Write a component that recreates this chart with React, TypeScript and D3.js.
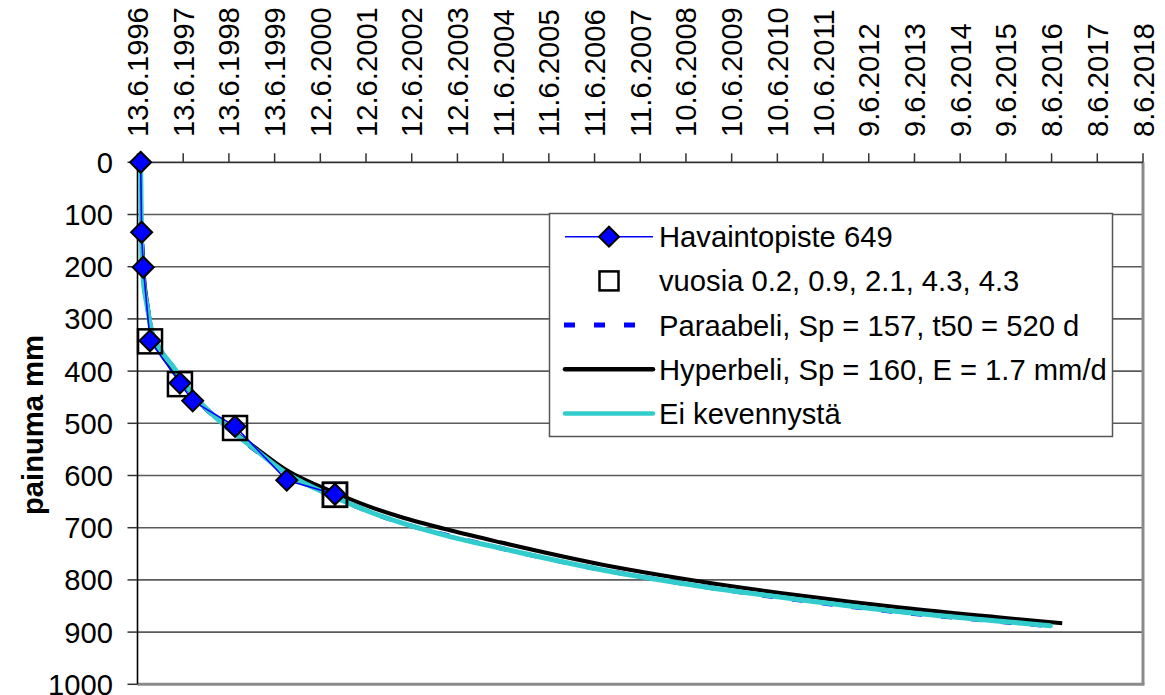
import React from "react";
import * as d3 from "d3";

// ---- data ----
const dateLabels = [
  "13.6.1996", "13.6.1997", "13.6.1998", "13.6.1999", "12.6.2000", "12.6.2001",
  "12.6.2002", "12.6.2003", "11.6.2004", "11.6.2005", "11.6.2006", "11.6.2007",
  "10.6.2008", "10.6.2009", "10.6.2010", "10.6.2011", "9.6.2012", "9.6.2013",
  "9.6.2014", "9.6.2015", "8.6.2016", "8.6.2017", "8.6.2018",
];
const tickStepDays = 365;
const yTicks = [0, 100, 200, 300, 400, 500, 600, 700, 800, 900, 1000];

// observation point 649 (days from 13.6.1996, settlement mm)
const obsDays = [25, 33, 46, 100, 339, 441, 779, 1192, 1577];
const obsMm = [0, 134, 201, 342, 423, 457, 506, 609, 636];

// "vuosia" squares
const yearDays = [100, 339, 779, 1577, 1577];
const yearMm = [343, 425, 509, 637, 637];

// Paraabeli fit
const paraDays = [38, 52, 76, 113, 180, 286, 443, 659, 922, 1192, 1591, 1857, 2097, 2496, 2895, 3694, 4493, 5292, 6090, 6889, 7370];
const paraMm = [157, 232, 272, 322, 358, 393, 446, 497, 548, 596, 643, 670, 690, 716, 739, 780, 812, 839, 862, 880, 890];

// Hyperbeli fit
const hypDays = [38, 50, 76, 113, 180, 286, 443, 659, 922, 1192, 1586, 1857, 2097, 2496, 2895, 3694, 4493, 5292, 6090, 6889, 7385];
const hypMm = [165, 215, 268, 322, 362, 397, 446, 495, 543, 590, 634, 660, 679, 705, 728, 770, 803, 830, 853, 872, 883];

// Ei kevennystä
const eiDays = [25, 30, 36, 50, 76, 113, 180, 286, 443, 659, 922, 1192, 1591, 1857, 2097, 2496, 2895, 3694, 4493, 5292, 6090, 6889, 7290];
const eiMm = [0, 100, 190, 235, 274, 323, 358, 392, 445, 496, 547, 596, 643, 670, 690, 717, 739, 780, 812, 838, 861, 879, 888];

const legendItems = [
  "Havaintopiste 649",
  "vuosia 0.2, 0.9, 2.1, 4.3, 4.3",
  "Paraabeli, Sp = 157, t50 = 520 d",
  "Hyperbeli, Sp = 160, E = 1.7 mm/d",
  "Ei kevennystä",
];

const FONT = "'Liberation Sans', Arial, Helvetica, sans-serif";
const FS = 29.2;

export default function App() {
  const W = 1165, H = 695;
  const left = 137.5, right = 1143, top = 162.3, bottom = 684.3;
  const maxDay = tickStepDays * (dateLabels.length - 1);
  const x = d3.scaleLinear().domain([0, maxDay]).range([left, right]);
  const y = d3.scaleLinear().domain([0, 1000]).range([top, bottom]);

  const line = d3
    .line<[number, number]>()
    .x((d) => x(d[0]))
    .y((d) => y(d[1]))
    .curve(d3.curveMonotoneX);
  const straight = d3
    .line<[number, number]>()
    .x((d) => x(d[0]))
    .y((d) => y(d[1]));

  const zip = (a: number[], b: number[]) => a.map((v, i) => [v, b[i]] as [number, number]);

  const diamond = (cx: number, cy: number, r: number) =>
    `M${cx},${cy - r}L${cx + r},${cy}L${cx},${cy + r}L${cx - r},${cy}Z`;

  const xTicks = dateLabels.map((_, i) => i * tickStepDays);

  const legX = 549.5, legY = 213.5, legW = 563, legH = 223;
  const rowY = (i: number) => 236.7 + i * 44.2;
  const symX0 = 565, symX1 = 653, symC = 609, textX = 659;

  return (
    <svg
      width={W}
      height={H}
      style={{ position: "absolute", left: 0, top: 0, background: "#fff" }}
      fontFamily={FONT}
    >
      <rect x={0} y={0} width={W} height={H} fill="#fff" />
      {/* gridlines */}
      {yTicks.slice(1, -1).map((t) => (
        <line key={t} x1={left} x2={right} y1={y(t)} y2={y(t)} stroke="#5a5a5a" strokeWidth={1.6} />
      ))}
      {/* plot border right & bottom */}
      <line x1={right} x2={right} y1={top} y2={bottom} stroke="#8a8a8a" strokeWidth={3} />
      <line x1={left} x2={right + 1.5} y1={bottom} y2={bottom} stroke="#8a8a8a" strokeWidth={3} />
      {/* top axis */}
      <line x1={left} x2={right} y1={top} y2={top} stroke="#333" strokeWidth={1.8} />
      {xTicks.map((t, i) => (
        <g key={t}>
          <line x1={x(t)} x2={x(t)} y1={top - 9} y2={top} stroke="#333" strokeWidth={1.5} />
          <text
            transform={`translate(${x(t)},${137}) rotate(-90)`}
            dy="0.36em"
            fontSize={FS}
            textAnchor="start"
            fill="#000"
          >
            {dateLabels[i]}
          </text>
        </g>
      ))}
      {/* left axis */}
      <line x1={left} x2={left} y1={top} y2={bottom} stroke="#000" strokeWidth={1.6} />
      {yTicks.map((t) => (
        <g key={t}>
          <line x1={left - 10} x2={left} y1={y(t)} y2={y(t)} stroke="#333" strokeWidth={1.5} />
          <text x={113} y={y(t)} dy="0.36em" fontSize={FS} textAnchor="end" fill="#000">
            {t}
          </text>
        </g>
      ))}
      <text
        transform={`translate(${32},${425}) rotate(-90)`}
        dy="0.36em"
        fontSize={FS}
        fontWeight="bold"
        textAnchor="middle"
      >
        painuma mm
      </text>

      {/* fitted curves */}
      <path d={line(zip(paraDays, paraMm)) || ""} fill="none" stroke="#0000ff" strokeWidth={4.5} strokeDasharray="11 19" />
      <path d={line(zip(hypDays, hypMm)) || ""} fill="none" stroke="#000" strokeWidth={4} />
      <path d={line(zip(eiDays, eiMm)) || ""} fill="none" stroke="#33cccc" strokeWidth={5} strokeLinecap="round" />

      {/* observation line */}
      <path d={straight(zip(obsDays, obsMm)) || ""} fill="none" stroke="#0000ff" strokeWidth={1.6} />
      {/* year squares */}
      {yearDays.map((d, i) => (
        <rect
          key={"sq" + i}
          x={x(d) - 12}
          y={y(yearMm[i]) - 12}
          width={24}
          height={24}
          fill="none"
          stroke="#000"
          strokeWidth={2.5}
        />
      ))}
      {/* diamonds */}
      {obsDays.map((d, i) => (
        <path key={"dm" + i} d={diamond(x(d), y(obsMm[i]), 10.5)} fill="#0000ff" stroke="#000" strokeWidth={2} />
      ))}

      {/* legend */}
      <rect x={legX} y={legY} width={legW} height={legH} fill="#fff" stroke="#555" strokeWidth={1.5} />
      <line x1={symX0} x2={symX1} y1={rowY(0)} y2={rowY(0)} stroke="#0000ff" strokeWidth={1.6} />
      <path d={diamond(symC, rowY(0), 10)} fill="#0000ff" stroke="#000" strokeWidth={2} />
      <rect x={symC - 9.5} y={rowY(1) - 9.5} width={19} height={19} fill="none" stroke="#000" strokeWidth={2.5} />
      <line x1={symX0 - 1} x2={symX1} y1={rowY(2)} y2={rowY(2)} stroke="#0000ff" strokeWidth={5} strokeDasharray="11 19" />
      <line x1={symX0} x2={symX1} y1={rowY(3)} y2={rowY(3)} stroke="#000" strokeWidth={4.5} strokeLinecap="round" />
      <line x1={symX0} x2={symX1} y1={rowY(4)} y2={rowY(4)} stroke="#33cccc" strokeWidth={4.5} strokeLinecap="round" />
      {legendItems.map((t, i) => (
        <text key={t} x={textX} y={rowY(i)} dy="0.36em" fontSize={FS} fill="#000">
          {t}
        </text>
      ))}
    </svg>
  );
}
